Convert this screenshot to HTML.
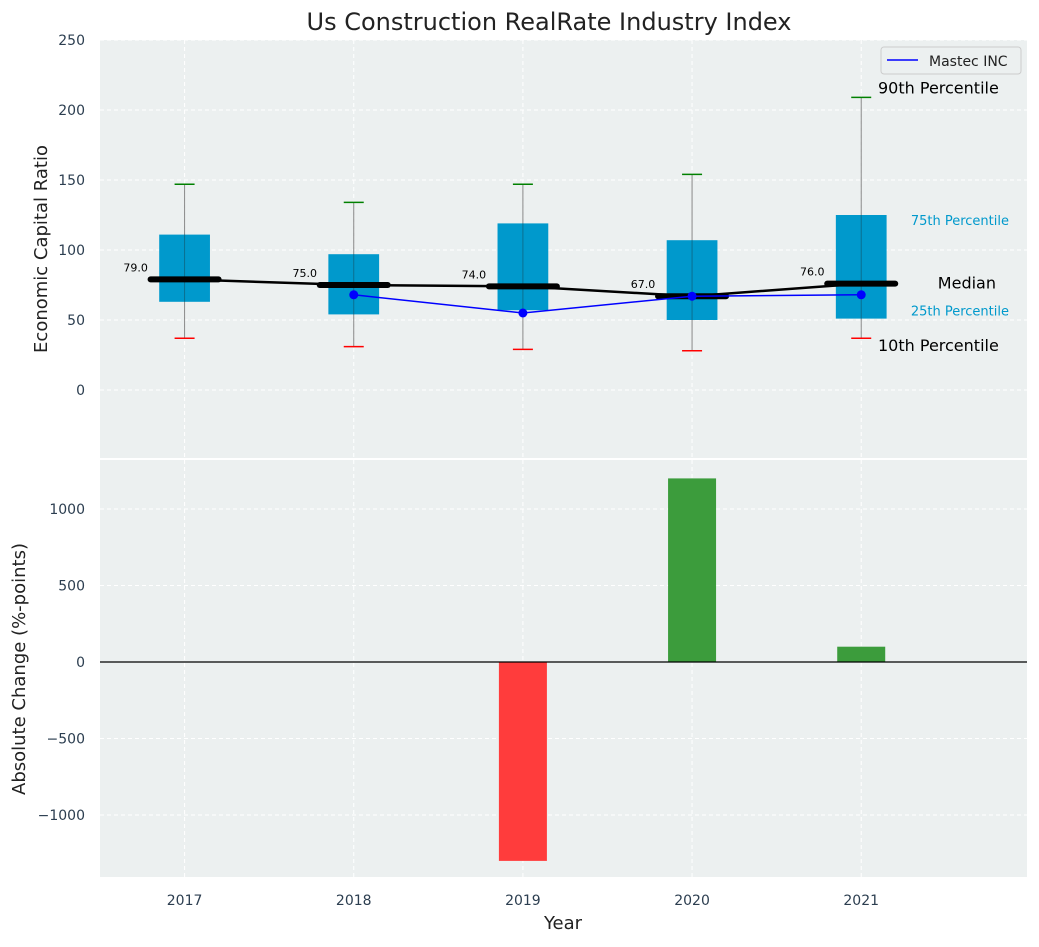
<!DOCTYPE html>
<html><head><meta charset="utf-8"><style>
body{margin:0;background:#fff;}
svg text{font-family:"DejaVu Sans","Liberation Sans",sans-serif;}
</style></head><body>
<svg id="c" width="1039" height="942" xmlns="http://www.w3.org/2000/svg">
<text x="549" y="30" font-size="24" text-anchor="middle" fill="#222">Us Construction RealRate Industry Index</text>
<g id="topg"></g>
<g id="botg"></g>
</svg>
<script>
const years=[2017,2018,2019,2020,2021];
const p10=[37,31,29,28,37];
const q1=[63,54,57,50,51];
const medians=[79,75,74,67,76];
const q3=[111,97,119,107,125];
const p90=[147,134,147,154,209];
const mastecYears=[2018,2019,2020,2021];
const mastec=[68,55,67,68];
const changes=[0,0,-1300,1200,100];
const topTicks=[0,50,100,150,200,250];
const botTicks=[-1000,-500,0,500,1000];

const NS="http://www.w3.org/2000/svg";
function mk(p,t,a,txt){const e=document.createElementNS(NS,t);for(const k in a)e.setAttribute(k,a[k]);if(txt!==undefined)e.textContent=txt;p.appendChild(e);return e;}
const L=100,R=1027;
const X0=2016.5,X1=2021.98;
const x=v=>L+(v-X0)/(X1-X0)*(R-L);
const T0=40,T1=458;const yt=v=>390-v*1.4;
const B0=460,B1=877;const yb=v=>662-v*0.153;
const topG=document.getElementById('topg'),botG=document.getElementById('botg');

let bg=mk(topG,'rect',{x:L,y:T0,width:R-L,height:T1-T0,fill:'#ecf0f0'});

topTicks.forEach(t=>{
 mk(topG,'line',{x1:L,x2:R,y1:yt(t),y2:yt(t),stroke:'#fff','stroke-dasharray':'4,3'});
 let tl=mk(topG,'text',{x:85,y:yt(t)+5,'font-size':14,'text-anchor':'end',fill:'#2c3e50'},t);
 
});
years.forEach(yr=>mk(topG,'line',{x1:x(yr),x2:x(yr),y1:T0,y2:T1,stroke:'#fff','stroke-dasharray':'4,3'}));
let yl=mk(topG,'text',{x:47,y:249,'font-size':18,'text-anchor':'middle',fill:'#222',transform:'rotate(-90 47 249)'},'Economic Capital Ratio');

const bw=(R-L)/(X1-X0)*0.3;
years.forEach((yr,i)=>{
 const cx=x(yr);
 const g=mk(topG,'g',{});
 mk(g,'line',{x1:cx,x2:cx,y1:yt(p10[i]),y2:yt(p90[i]),stroke:'#888','stroke-width':1});
 mk(g,'rect',{x:cx-bw/2,y:yt(q3[i]),width:bw,height:yt(q1[i])-yt(q3[i]),fill:'#0099cc'});
 mk(g,'line',{x1:cx,x2:cx,y1:yt(q3[i]),y2:yt(q1[i]),stroke:'#0a6f90','stroke-width':1});
 mk(g,'line',{x1:cx-10,x2:cx+10,y1:yt(p90[i]),y2:yt(p90[i]),stroke:'green','stroke-width':1.5});
 mk(g,'line',{x1:cx-10,x2:cx+10,y1:yt(p10[i]),y2:yt(p10[i]),stroke:'red','stroke-width':1.5});
 mk(g,'line',{x1:cx-34,x2:cx+34,y1:yt(medians[i]),y2:yt(medians[i]),stroke:'#000','stroke-width':6,'stroke-linecap':'round'});
 let t=mk(g,'text',{x:cx-49,y:yt(medians[i])-8,'font-size':11,'text-anchor':'middle',fill:'#000'},medians[i].toFixed(1));
 
});
let mp=mk(topG,'polyline',{points:years.map((yr,i)=>x(yr)+','+yt(medians[i])).join(' '),fill:'none',stroke:'#000','stroke-width':2.5});

let ml=mk(topG,'polyline',{points:mastecYears.map((yr,i)=>x(yr)+','+yt(mastec[i])).join(' '),fill:'none',stroke:'blue','stroke-width':1.5});

mastecYears.forEach((yr,i)=>{let c=mk(topG,'circle',{cx:x(yr),cy:yt(mastec[i]),r:4.5,fill:'blue'});
 });
[['90th Percentile',yt(p90[4])-4,16,'#000',878,'start'],['75th Percentile',yt(q3[4])+10,13,'#0099cc',1009,'end'],['Median',yt(medians[4])+5,16,'#000',996,'end'],['25th Percentile',yt(q1[4])-3,13,'#0099cc',1009,'end'],['10th Percentile',yt(p10[4])+13,16,'#000',878,'start']].forEach(a=>{
 let t=mk(topG,'text',{x:a[4],y:a[1],'font-size':a[2],fill:a[3],'text-anchor':a[5]},a[0]);
 });
const lg=mk(topG,'g',{});
mk(lg,'rect',{x:881,y:47,width:140,height:27,fill:'#ecf0f0',stroke:'#ccc',rx:3});
mk(lg,'line',{x1:887,x2:918,y1:60,y2:60,stroke:'blue','stroke-width':1.5});
mk(lg,'text',{x:929,y:66,'font-size':14,fill:'#222'},'Mastec INC');

let bg2=mk(botG,'rect',{x:L,y:B0,width:R-L,height:B1-B0,fill:'#ecf0f0'});

botTicks.forEach(t=>{
 mk(botG,'line',{x1:L,x2:R,y1:yb(t),y2:yb(t),stroke:'#fff','stroke-dasharray':'4,3'});
 let tl=mk(botG,'text',{x:85,y:yb(t)+5,'font-size':14,'text-anchor':'end',fill:'#2c3e50'},t<0?'\u2212'+(-t):t);
 
});
years.forEach(yr=>{
 mk(botG,'line',{x1:x(yr),x2:x(yr),y1:B0,y2:B1,stroke:'#fff','stroke-dasharray':'4,3'});
 let tl=mk(botG,'text',{x:x(yr),y:905,'font-size':14,'text-anchor':'middle',fill:'#2c3e50'},yr);
 
});
years.forEach((yr,i)=>{
 const v=changes[i];if(v===0)return;
 let b=mk(botG,'rect',{x:x(yr)-24,y:Math.min(yb(v),yb(0)),width:48,height:Math.abs(yb(v)-yb(0)),fill:v>0?'#3c9c3c':'#ff3c3c'});
 
});
mk(botG,'line',{x1:L,x2:R,y1:yb(0),y2:yb(0),stroke:'#000','stroke-width':1.2});
let yl2=mk(botG,'text',{x:25,y:669,'font-size':18,'text-anchor':'middle',fill:'#222',transform:'rotate(-90 25 669)'},'Absolute Change (%-points)');

let xl=mk(botG,'text',{x:563,y:929,'font-size':18,'text-anchor':'middle',fill:'#222'},'Year');

</script>
</body></html>
